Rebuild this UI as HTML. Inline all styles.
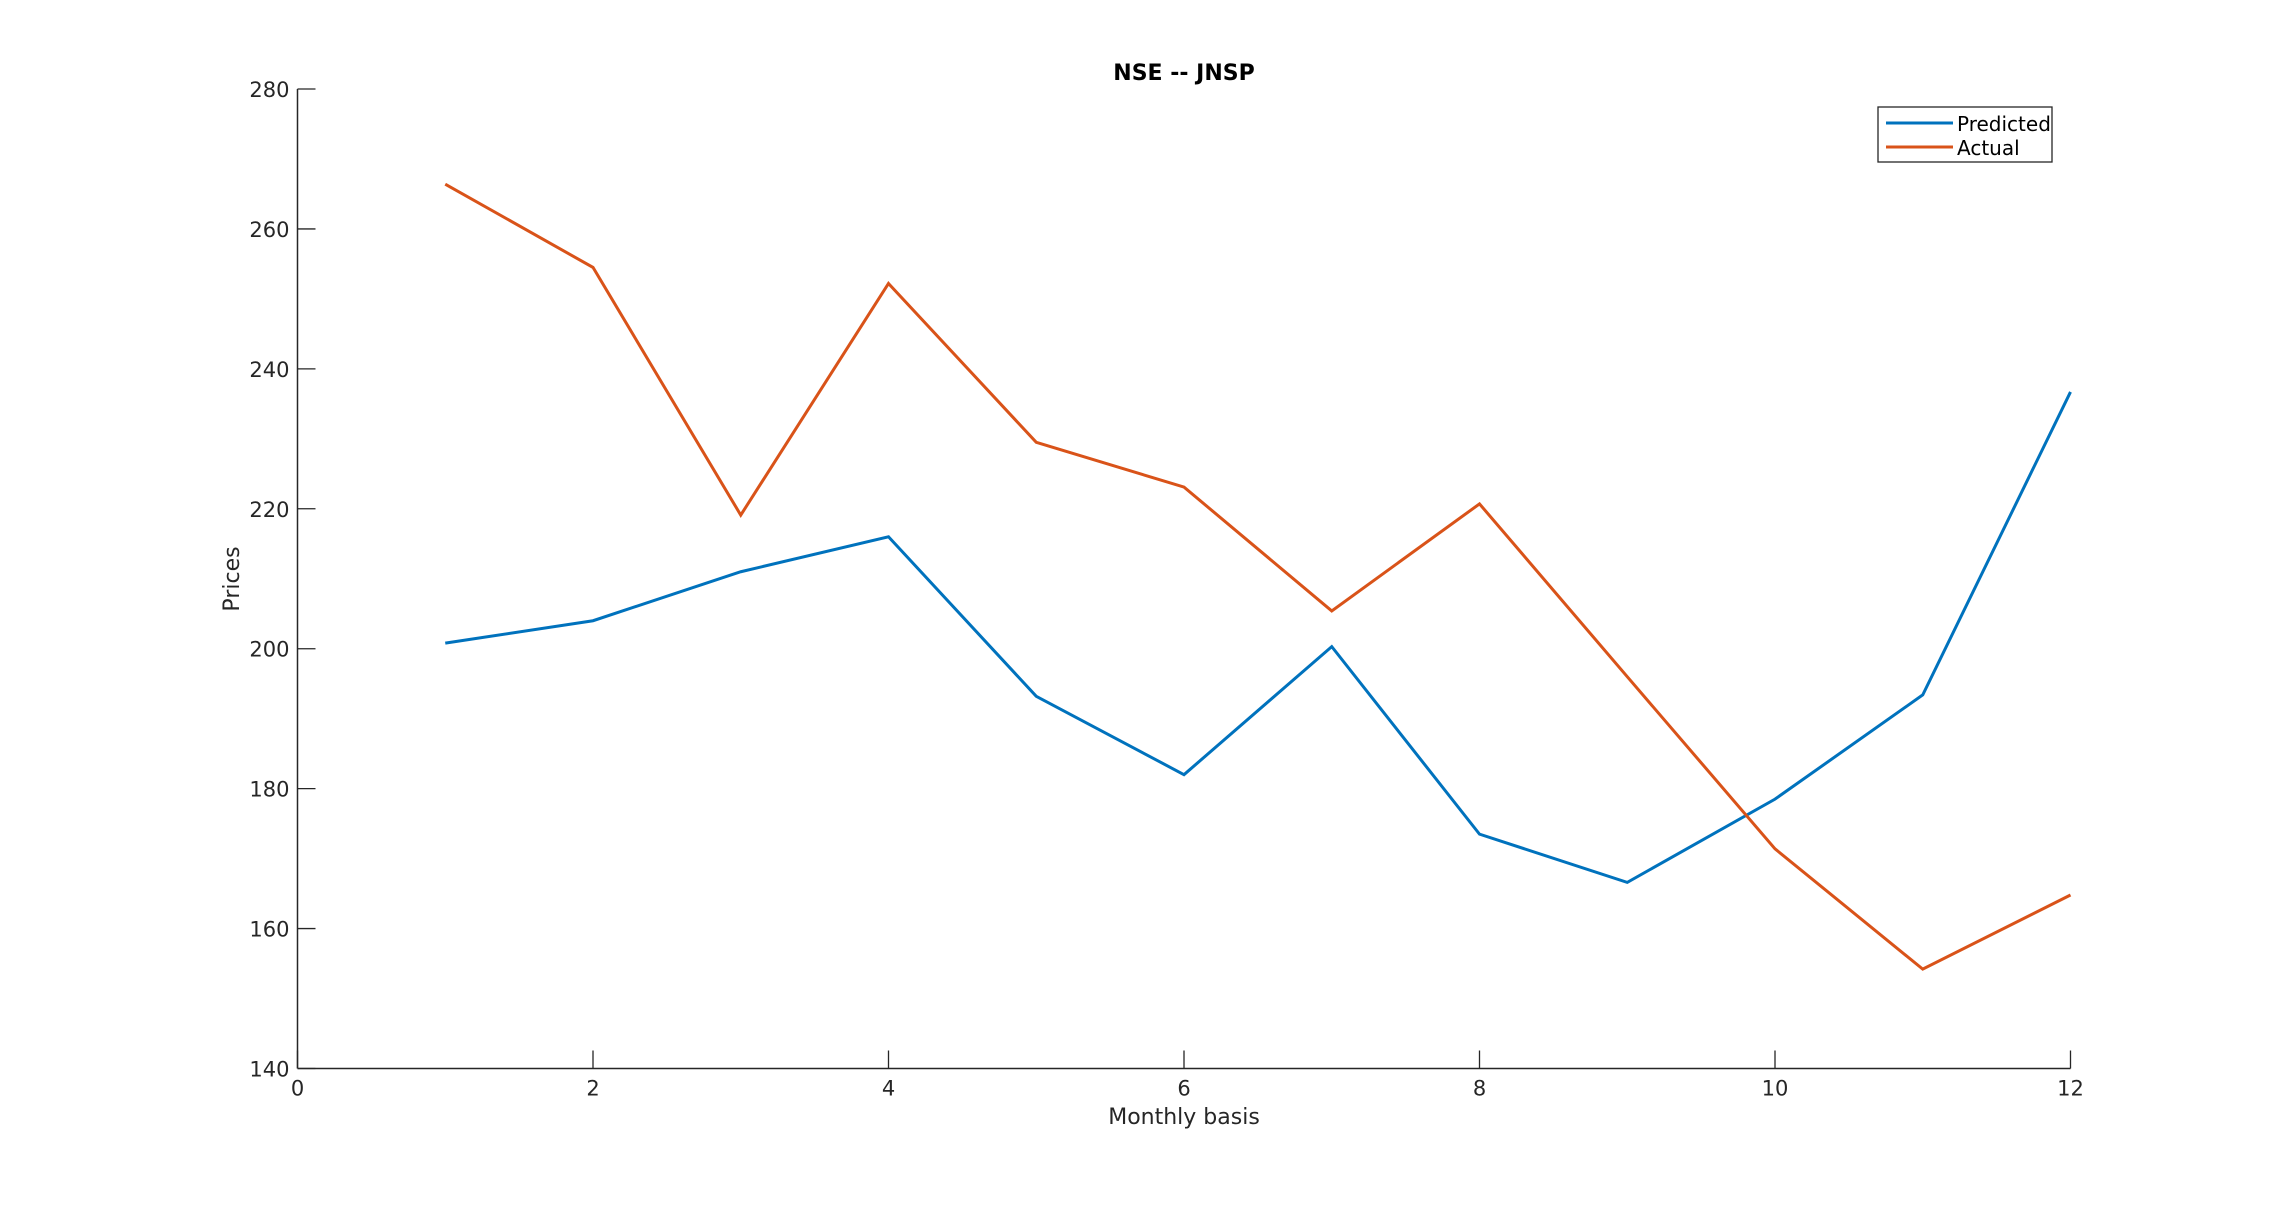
<!DOCTYPE html>
<html><head><meta charset="utf-8"><style>
body{margin:0;background:#fff}
text{font-family:"DejaVu Sans","Liberation Sans",sans-serif;fill:#262626}
</style></head><body>
<svg id="chart" width="2288" height="1200" viewBox="0 0 2288 1200">
<rect width="2288" height="1200" fill="#fff"/>
<text x="1184" y="80" font-size="22" font-weight="bold" text-anchor="middle" fill="#000" style="fill:#000">NSE -- JNSP</text>
<g id="axes"></g>
<g id="lines"></g>
<text x="1184" y="1124" font-size="22" text-anchor="middle">Monthly basis</text>
<text transform="translate(239,579) rotate(-90)" font-size="22" text-anchor="middle">Prices</text>
<g>
<rect x="1878" y="107" width="174" height="55" fill="#fff" stroke="#262626" stroke-width="1.3"/>
<line x1="1886" y1="123" x2="1953" y2="123" stroke="#0072BD" stroke-width="3"/>
<text x="1957" y="131" font-size="20" style="fill:#000">Predicted</text>
<line x1="1886" y1="147" x2="1953" y2="147" stroke="#D95319" stroke-width="3"/>
<text x="1957" y="155" font-size="20" style="fill:#000">Actual</text>
</g>
</svg>
<script>
const months=[1,2,3,4,5,6,7,8,9,10,11,12];
const predicted=[200.8,204,211,216,193.2,182,200.3,173.5,166.6,178.5,193.4,236.7];
const actual=[266.4,254.5,219.1,252.2,229.5,223.1,205.4,220.7,196,171.4,154.2,164.8];
const xTicks=[0,2,4,6,8,10,12];
const yTicks=[140,160,180,200,220,240,260,280];
const NS="http://www.w3.org/2000/svg";
const X0=297.5,X1=2070.5,Y0=1068.5,Y1=89;
const sx=v=>X0+(v-0)/(12-0)*(X1-X0);
const sy=v=>Y0-(v-140)/(280-140)*(Y0-Y1);
function mk(tag,attrs,parent){const e=document.createElementNS(NS,tag);for(const k in attrs)e.setAttribute(k,attrs[k]);parent.appendChild(e);return e;}
const ax=document.getElementById('axes');
let l=mk('line',{x1:X0,y1:Y0,x2:X1,y2:Y0,stroke:'#262626','stroke-width':1.5},ax);


l=mk('line',{x1:X0,y1:Y0,x2:X0,y2:Y1,stroke:'#262626','stroke-width':1.5},ax);


xTicks.forEach(t=>{const x=sx(t);
 mk('line',{x1:x,y1:Y0,x2:x,y2:Y0-18,stroke:'#262626','stroke-width':1.3},ax);
 const tx=mk('text',{x:x,y:Y0+27,'font-size':21,'text-anchor':'middle'},ax);tx.textContent=t;
 
 });
yTicks.forEach(t=>{const y=sy(t);
 mk('line',{x1:X0,y1:y,x2:X0+18,y2:y,stroke:'#262626','stroke-width':1.3},ax);
 const tx=mk('text',{x:X0-8,y:y+8,'font-size':21,'text-anchor':'end'},ax);tx.textContent=t;
 
 });
const lg=document.getElementById('lines');
function series(vals,color,name){const p=mk('polyline',{points:months.map((m,i)=>sx(m)+','+sy(vals[i])).join(' '),fill:'none',stroke:color,'stroke-width':3,'stroke-linejoin':'miter'},lg);
 
 }
series(predicted,'#0072BD','predicted-line');
series(actual,'#D95319','actual-line');
</script>
</body></html>
